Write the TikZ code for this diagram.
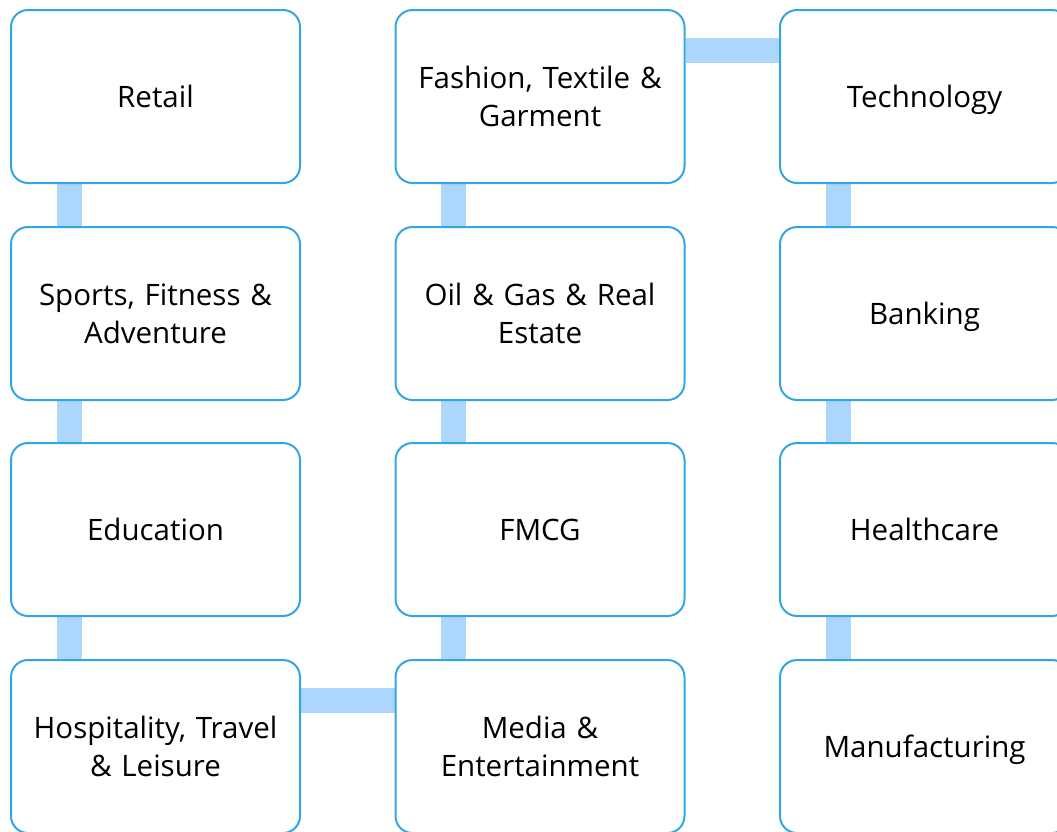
\documentclass[tikz,border=0pt]{standalone}
\usepackage{fontspec}
\setmainfont{Open Sans}
\usetikzlibrary{calc,backgrounds}
\definecolor{boxline}{HTML}{33A5E5}
\definecolor{barfill}{HTML}{ADD6FC}
\begin{document}
\begin{tikzpicture}[x=1pt,y=-1pt,
  card/.style={draw=boxline,line width=2pt,fill=white,rounded corners=17pt,
    minimum width=289pt,minimum height=173pt,inner sep=0pt,align=center,
    text width=275pt,font=\fontsize{29.5}{38}\selectfont},
  oneline/.style={card,text height=30pt,text depth=8pt},
  bar/.style={draw=barfill,line width=25pt}]
\useasboundingbox (0,0) rectangle (1057,831);
\clip (0,0) rectangle (1057,831);
\node[oneline] (retail) at (155.5,96.5) {Retail};
\node[card] (sports) at (155.5,313.5) {Sports, Fitness \&\\Adventure};
\node[oneline] (edu) at (155.5,529.5) {Education};
\node[card] (hosp) at (155.5,746.5) {Hospitality, Travel\\\& Leisure};
\node[card] (fash) at (540,96.5) {Fashion, Textile \&\\Garment};
\node[card] (oil) at (540,313.5) {Oil \& Gas \& Real\\Estate};
\node[oneline] (fmcg) at (540,529.5) {FMCG};
\node[card] (media) at (540,746.5) {Media \&\\Entertainment};
\node[oneline] (tech) at (924.5,96.5) {Technology};
\node[oneline] (bank) at (924.5,313.5) {Banking};
\node[oneline] (health) at (924.5,529.5) {Healthcare};
\node[oneline] (manu) at (924.5,746.5) {Manufacturing};
\begin{scope}[on background layer]
  \foreach \a/\b in {retail/sports,sports/edu,edu/hosp,media/fmcg,fmcg/oil,oil/fash,tech/bank,bank/health,health/manu}{
    \draw[bar] ($(\a.south west)+(59,0)$) -- ($(\b.north west)+(59,0)$);
  }
  \draw[bar] ($(hosp.north east)+(0,41.5)$) -- ($(media.north west)+(0,41.5)$);
  \draw[bar] ($(fash.north east)+(0,41.5)$) -- ($(tech.north west)+(0,41.5)$);
\end{scope}
\end{tikzpicture}
\end{document}
